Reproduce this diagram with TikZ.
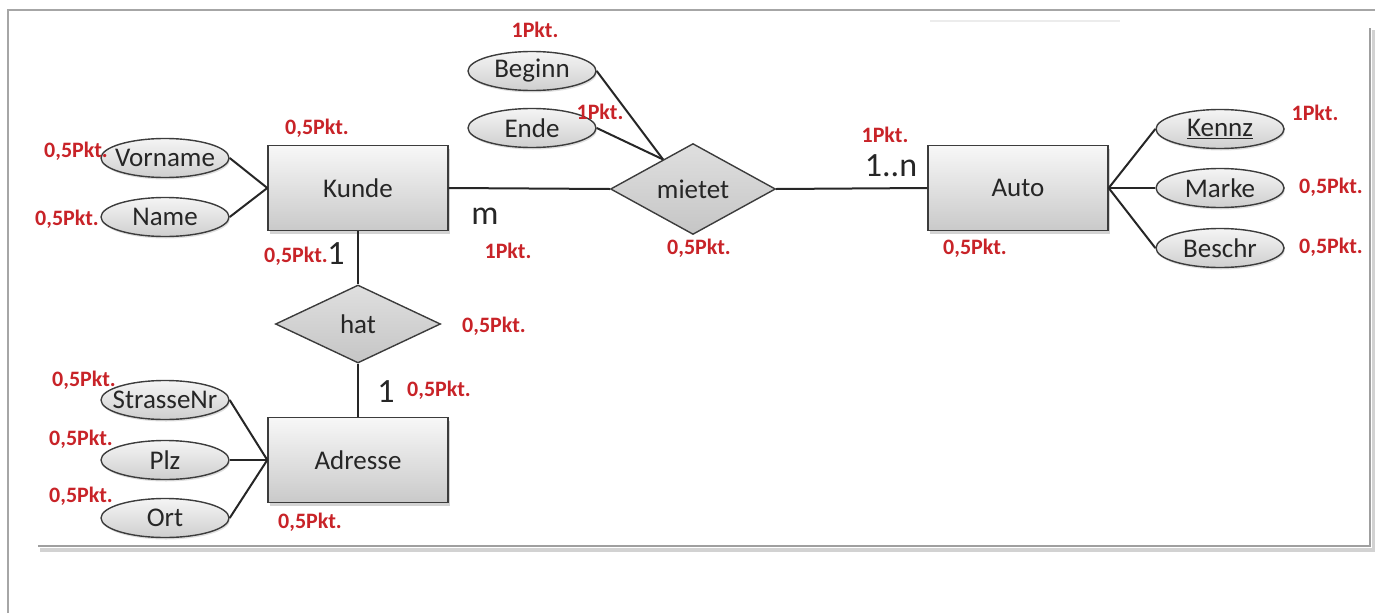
\documentclass[tikz,border=0pt]{standalone}
\usepackage{fontspec}
\setmainfont{Carlito}
\usetikzlibrary{shapes.geometric,shadows,calc}
\definecolor{pkt}{RGB}{200,35,40}
\definecolor{edge}{RGB}{60,60,60}
\begin{document}
\begin{tikzpicture}[x=1pt,y=-1pt,
  entity/.style={rectangle, draw=edge, line width=1.4pt, top color=gray!6, bottom color=gray!42,
    minimum width=180pt, minimum height=85pt, inner sep=0pt, text=black!85,
    font=\fontsize{27}{30}\selectfont,
    drop shadow={opacity=0.35, shadow xshift=2pt, shadow yshift=-3pt}},
  relation/.style={diamond, draw=edge, line width=1.4pt, top color=gray!25, bottom color=gray!45,
    minimum width=165pt, minimum height=78pt, inner sep=0pt, text=black!85,
    font=\fontsize{27}{30}\selectfont},
  attr/.style={ellipse, draw=edge, line width=1.4pt, top color=gray!8, bottom color=gray!38,
    minimum width=128pt, minimum height=39pt, inner xsep=-9pt, inner ysep=0pt, text=black!85,
    font=\fontsize{27}{30}\selectfont,
    drop shadow={opacity=0.25, shadow xshift=1pt, shadow yshift=-2pt}},
  pkt/.style={text=pkt, font=\bfseries\fontsize{22}{25}\selectfont, inner sep=0pt},
  card/.style={font=\fontsize{34}{38}\selectfont, inner sep=0pt, text=black!85},
  conn/.style={draw=black!85, line width=2pt}]
\useasboundingbox (0,0) rectangle (1375,613);
% frame
\draw[gray!70, line width=1.5pt] (8,613) -- (8,10) -- (1375,10);
\draw[gray!15, line width=1.5pt] (930,21) -- (1120,21);
\draw[gray!35, line width=4pt] (40,550) -- (1374,550) -- (1374,30);
\draw[gray!75, line width=2.2pt] (38,546) -- (1370,546) -- (1370,28);

% entities
\node[entity] (kunde) at (358,188) {Kunde};
\node[entity] (auto) at (1018,188) {Auto};
\node[entity] (adresse) at (358,460) {Adresse};
% relations
\node[relation] (mietet) at (693,189) {mietet};
\node[relation] (hat) at (358,324) {hat};
% attributes
\node[attr] (vorname) at (165,158) {Vorname};
\node[attr] (name) at (165,217) {Name};
\node[attr] (beginn) at (532,71) {Beginn};
\node[attr] (ende) at (532,128) {Ende};
\node[attr] (kennz) at (1220,129) {\underline{Kennz}};
\node[attr] (marke) at (1220,188) {Marke};
\node[attr] (beschr) at (1220,248) {Beschr};
\node[attr] (strasse) at (165,400) {StrasseNr};
\node[attr] (plz) at (165,460) {Plz};
\node[attr] (ort) at (165,518) {Ort};

\coordinate (mj) at ($(mietet.west)!0.64!(mietet.north)$);

% connectors
\draw[conn] (vorname.east) -- (kunde.west);
\draw[conn] (name.east) -- (kunde.west);
\draw[conn] (kunde.east) -- (mietet.west);
\draw[conn] (mietet.east) -- (auto.west);
\draw[conn] (beginn.east) -- (mj);
\draw[conn] (ende.east) -- (mj);
\draw[conn] (auto.east) -- (kennz.west);
\draw[conn] (auto.east) -- (marke.west);
\draw[conn] (auto.east) -- (beschr.west);
\draw[conn] (kunde.south) -- (hat.north);
\draw[conn] (hat.south) -- (adresse.north);
\draw[conn] (strasse.east) -- (adresse.west);
\draw[conn] (plz.east) -- (adresse.west);
\draw[conn] (ort.east) -- (adresse.west);

% cardinalities
\node[card] (cm) at (485,216) {m};
\node[card] (cn) at (891,166) {1..n};
\node[card] (c1a) at (336,254) {1};
\node[card] (c1b) at (386,392) {1};

% points
\node[pkt] (p1) at (535,30) {1Pkt.};
\node[pkt] (p2) at (600,112) {1Pkt.};
\node[pkt] (p3) at (317,128) {0,5Pkt.};
\node[pkt] (p4) at (76,151) {0,5Pkt.};
\node[pkt] (p5) at (67,219) {0,5Pkt.};
\node[pkt] (p6) at (296,256) {0,5Pkt.};
\node[pkt] (p7) at (508,251) {1Pkt.};
\node[pkt] (p8) at (699,248) {0,5Pkt.};
\node[pkt] (p9) at (885,135) {1Pkt.};
\node[pkt] (p10) at (975,248) {0,5Pkt.};
\node[pkt] (p11) at (1315,113) {1Pkt.};
\node[pkt] (p12) at (1331,187) {0,5Pkt.};
\node[pkt] (p13) at (1331,247) {0,5Pkt.};
\node[pkt] (p14) at (494,326) {0,5Pkt.};
\node[pkt] (p15) at (439,390) {0,5Pkt.};
\node[pkt] (p16) at (84,380) {0,5Pkt.};
\node[pkt] (p17) at (81,439) {0,5Pkt.};
\node[pkt] (p18) at (81,496) {0,5Pkt.};
\node[pkt] (p19) at (310,522) {0,5Pkt.};
\end{tikzpicture}
\end{document}
